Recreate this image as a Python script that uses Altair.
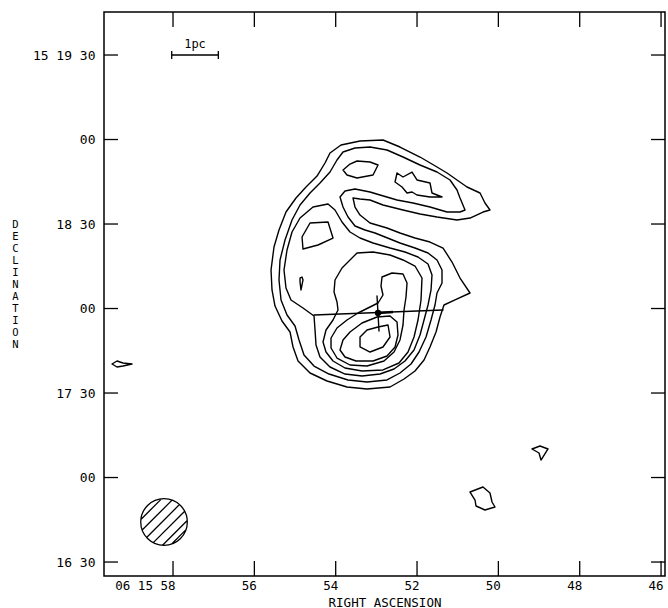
import altair as alt
import pandas as pd

# Map grid: RA in seconds of time past 06h15m, Dec in arcsec past +15d16m00s
RA_TICKS = [58, 56, 54, 52, 50, 48, 46]
RA_LABELS = ["06 15 58", "56", "54", "52", "50", "48", "46"]
DEC_TICKS = [30, 60, 90, 120, 150, 180, 210]
DEC_LABELS = ["16 30", "00", "17 30", "00", "18 30", "00", "15 19 30"]
DEC_TITLE = list("DECLINATION")

RA_RANGE = [59.697, 45.903]
DEC_RANGE = [25.04, 225.27]

# Contour 1 (lowest level), whole S-shaped source
LEVEL_1 = [
    (50.206, 154.98), (50.329, 157.46), (50.451, 161.01), (50.771, 163.14), (51.263, 168.11),
    (51.509, 170.24), (51.927, 173.79), (52.419, 177.34), (52.837, 179.83), (53.402, 179.47),
    (53.869, 178.05), (54.140, 175.21), (54.263, 171.66), (54.459, 167.04), (54.730, 163.14),
    (54.976, 159.23), (55.222, 154.26), (55.394, 147.88), (55.517, 141.84), (55.590, 133.68),
    (55.566, 126.58), (55.492, 120.89), (55.320, 115.57), (55.123, 111.66), (55.049, 106.34),
    (54.926, 101.37), (54.631, 97.11), (54.213, 94.27), (53.722, 92.14), (53.230, 91.43),
    (52.664, 92.14), (52.320, 94.98), (52.050, 97.82), (51.828, 101.73), (51.681, 106.34),
    (51.533, 111.66), (51.435, 116.99), (51.337, 121.25), (51.066, 123.03), (50.697, 125.51),
    (50.943, 130.83), (51.140, 136.51), (51.361, 141.48), (51.681, 143.61), (52.050, 145.03),
    (52.419, 146.81), (52.738, 148.58), (53.156, 150.36), (53.402, 153.20), (53.525, 156.04),
    (53.574, 159.23), (53.402, 158.88), (53.156, 158.53), (52.837, 156.75), (52.345, 154.98),
    (51.927, 153.55), (51.509, 152.49), (51.017, 151.43), (50.697, 152.13), (50.378, 154.26),
]

# Contour 2
LEVEL_2 = [
    (53.894, 159.59), (53.771, 161.72), (53.525, 162.43), (53.156, 161.36), (52.910, 160.30),
    (52.492, 158.53), (52.099, 157.46), (51.681, 156.04), (51.263, 154.26), (50.943, 154.26),
    (50.820, 154.98), (50.943, 159.23), (51.017, 162.08), (51.189, 165.63), (51.509, 168.46),
    (51.927, 170.95), (52.345, 173.79), (52.738, 176.28), (53.156, 177.34), (53.525, 176.98),
    (53.820, 175.56), (53.968, 172.73), (54.140, 168.46), (54.386, 164.56), (54.631, 161.01),
    (54.877, 156.75), (55.074, 151.43), (55.246, 144.33), (55.369, 137.23), (55.394, 130.13),
    (55.344, 123.03), (55.197, 117.70), (55.000, 113.79), (54.902, 108.83), (54.779, 103.50),
    (54.533, 99.59), (54.164, 96.75), (53.697, 94.63), (53.230, 93.91), (52.738, 94.63),
    (52.419, 97.11), (52.148, 100.30), (51.951, 104.56), (51.779, 109.89), (51.656, 115.93),
    (51.558, 121.25), (51.509, 125.51), (51.386, 129.06), (51.386, 133.68), (51.509, 137.23),
    (51.730, 139.71), (52.050, 141.48), (52.419, 143.26), (52.787, 145.39), (53.033, 146.81),
    (53.279, 147.88), (53.525, 149.29), (53.697, 152.49), (53.820, 156.04),
]

# Contour 3: main body plus two islands in the northern arm
LEVEL_3 = [
    (54.558, 156.04), (54.189, 157.10), (54.017, 154.98), (53.845, 150.71), (53.648, 147.16),
    (53.402, 145.03), (53.082, 143.26), (52.664, 141.48), (52.296, 140.06), (51.976, 138.29),
    (51.730, 135.80), (51.632, 131.90), (51.656, 126.58), (51.730, 121.25), (51.828, 115.93),
    (51.927, 110.60), (52.074, 105.28), (52.296, 101.37), (52.566, 98.53), (52.910, 96.75),
    (53.353, 96.04), (53.771, 96.75), (54.140, 99.24), (54.386, 102.79), (54.484, 107.05),
    (54.508, 112.38), (54.533, 117.34), (54.804, 120.18), (55.099, 123.03), (55.222, 127.28),
    (55.271, 133.68), (55.197, 140.78), (55.074, 147.16), (54.877, 152.13),
]
LEVEL_3_NORTH = [
    (53.820, 169.18), (53.648, 171.30), (53.476, 172.37), (53.156, 172.01), (52.959, 170.95),
    (53.082, 167.40), (53.476, 166.33), (53.722, 167.40),
]
LEVEL_3_ARM = [
    (52.492, 168.11), (52.345, 166.69), (52.123, 168.46), (52.001, 165.63), (51.681, 164.56),
    (51.632, 161.01), (51.386, 159.59), (51.681, 159.59), (52.001, 160.30), (52.123, 161.36),
    (52.246, 161.01), (52.369, 163.14), (52.541, 164.91),
]

# Contour 4: southern blob plus western island
LEVEL_4 = [
    (53.476, 139.71), (53.082, 140.06), (52.664, 139.00), (52.345, 137.23), (52.050, 135.09),
    (51.878, 130.83), (51.902, 123.03), (51.976, 115.93), (52.074, 109.89), (52.222, 104.56),
    (52.443, 100.66), (52.837, 98.18), (53.353, 97.82), (53.771, 98.88), (54.066, 101.37),
    (54.238, 104.56), (54.312, 108.11), (54.238, 112.38), (54.066, 115.93), (53.943, 119.48),
    (53.968, 122.31), (54.041, 125.86), (54.017, 130.13), (53.845, 134.38),
]
LEVEL_4_WEST = [
    (54.828, 145.39), (54.631, 150.36), (54.189, 150.71), (54.066, 145.03), (54.435, 142.55),
    (54.804, 141.13),
]
LEVEL_4_SPECK = [
    (54.877, 130.83), (54.828, 131.19), (54.804, 130.13), (54.853, 126.58), (54.877, 129.41),
]

# Contours 5-7 around the peak
LEVEL_5 = [
    (52.861, 131.19), (52.615, 132.61), (52.345, 132.25), (52.246, 129.06), (52.271, 124.09),
    (52.320, 119.48), (52.345, 114.15), (52.419, 108.83), (52.566, 104.56), (52.812, 101.37),
    (53.230, 99.59), (53.648, 99.95), (53.968, 102.43), (54.115, 105.98), (54.115, 109.53),
    (53.968, 113.08), (53.722, 115.93), (53.451, 118.41), (53.156, 120.54), (52.959, 121.96),
    (52.837, 124.80), (52.886, 127.99),
]
LEVEL_6 = [
    (53.894, 105.28), (53.820, 108.83), (53.648, 111.66), (53.353, 114.86), (52.984, 116.99),
    (52.664, 117.34), (52.492, 115.21), (52.468, 110.60), (52.541, 106.34), (52.738, 103.14),
    (53.082, 101.37), (53.500, 101.37), (53.771, 102.79),
]
LEVEL_7 = [
    (53.402, 109.89), (53.230, 112.38), (52.959, 113.44), (52.714, 114.15), (52.664, 109.89),
    (52.837, 106.34), (53.156, 104.56), (53.402, 106.34),
]

# Isolated lowest-level features
FIELD_WEST = [
    (59.500, 100.30), (59.377, 101.37), (59.229, 100.66), (59.008, 100.30), (59.229, 99.59),
    (59.377, 99.24),
]
FIELD_SE_1 = [(49.173, 70.13), (48.976, 71.19), (48.779, 70.13), (48.952, 66.22), (49.001, 68.71)]
FIELD_SE_2 = [
    (50.697, 54.86), (50.378, 56.64), (50.206, 54.51), (50.156, 51.31), (50.083, 49.54),
    (50.329, 48.47), (50.550, 49.89), (50.574, 52.02),
]

CLOSED = {
    "c1": LEVEL_1, "c2": LEVEL_2, "c3": LEVEL_3, "c3n": LEVEL_3_NORTH, "c3a": LEVEL_3_ARM,
    "c4": LEVEL_4, "c4w": LEVEL_4_WEST, "c4s": LEVEL_4_SPECK,
    "c5": LEVEL_5, "c6": LEVEL_6, "c7": LEVEL_7,
    "fw": FIELD_WEST, "fse1": FIELD_SE_1, "fse2": FIELD_SE_2,
}

# Position cross (jet axis and error bar), scale bar, beam
CROSS_EW = [(54.533, 117.70), (51.361, 119.48)]
CROSS_NS = [(52.984, 124.44), (52.935, 112.02)]
CROSS_CORE = [(52.959, 118.41), (52.591, 118.76)]
CENTRE = [(52.959, 118.41)]
SCALE_BAR = [(58.032, 210.0), (56.886, 210.0)]
SCALE_TEXT = [(57.459, 210.0, "1pc")]
BEAM = [(58.221, 44.21)]

rows = []
for name, pts in CLOSED.items():
    for i, (ra, dec) in enumerate(list(pts) + [pts[0]]):
        rows.append({"part": name, "seq": i, "ra": ra, "dec": dec})
for name, pts in {"ew": CROSS_EW, "ns": CROSS_NS, "bar": SCALE_BAR}.items():
    for i, (ra, dec) in enumerate(pts):
        rows.append({"part": name, "seq": i, "ra": ra, "dec": dec})
lines_df = pd.DataFrame(rows)

core_df = pd.DataFrame([{"seq": i, "ra": r, "dec": d} for i, (r, d) in enumerate(CROSS_CORE)])
centre_df = pd.DataFrame(CENTRE, columns=["ra", "dec"])
bar_ends_df = pd.DataFrame(SCALE_BAR, columns=["ra", "dec"])
bar_text_df = pd.DataFrame(SCALE_TEXT, columns=["ra", "dec", "txt"])
beam_df = pd.DataFrame(BEAM, columns=["ra", "dec"])
ra_ticks_df = pd.DataFrame({"ra": RA_TICKS})
dec_ticks_df = pd.DataFrame({"dec": DEC_TICKS})

FONT = "DejaVu Sans Mono"


def label_expr(values, labels):
    expr = "''"
    for v, lab in zip(values, labels):
        expr = f"datum.value == {v} ? '{lab}' : ({expr})"
    return expr


x_axis = alt.Axis(
    values=RA_TICKS, labelExpr=label_expr(RA_TICKS, RA_LABELS), grid=False, ticks=False,
    tickSize=0, domain=False, labelAlign="right", labelOffset=2, labelBaseline="alphabetic",
    labelPadding=13, labelFont=FONT, labelFontSize=12.5, labelColor="black",
    labelOverlap=False, labelFlush=False,
    titleFont=FONT, titleFontSize=12.5, titleFontWeight="normal", titleColor="black",
    titleBaseline="alphabetic", titleY=30,
)
y_axis = alt.Axis(
    values=DEC_TICKS, labelExpr=label_expr(DEC_TICKS, DEC_LABELS), grid=False, ticks=False,
    tickSize=0, domain=False, labelPadding=9, labelFont=FONT, labelFontSize=13,
    labelColor="black", labelOverlap=False, labelFlush=False,
    titleFont=FONT, titleFontSize=10.5, titleFontWeight="normal", titleColor="black",
    titleAngle=0, titleAlign="center", titleBaseline="top", titleX=-89, titleY=207,
    titleLineHeight=12,
)
x_scale = alt.Scale(domain=RA_RANGE, nice=False, zero=False)
y_scale = alt.Scale(domain=DEC_RANGE, nice=False, zero=False)


def X():
    return alt.X("ra:Q", scale=x_scale, axis=x_axis, title="RIGHT ASCENSION")


def Y():
    return alt.Y("dec:Q", scale=y_scale, axis=y_axis, title=DEC_TITLE)


lines = alt.Chart(lines_df).mark_line(
    color="black", strokeWidth=1.4, strokeJoin="round", strokeCap="round"
).encode(x=X(), y=Y(), detail="part:N", order="seq:Q")

core = alt.Chart(core_df).mark_line(color="black", strokeWidth=2.6).encode(
    x=X(), y=Y(), order="seq:Q"
)

centre = alt.Chart(centre_df).mark_point(
    filled=True, color="black", size=40, opacity=1
).encode(x=X(), y=Y())

bar_ends = alt.Chart(bar_ends_df).mark_point(
    shape="M 0 -1 L 0 1", size=64, filled=False, stroke="black", strokeWidth=1.3, opacity=1
).encode(x=X(), y=Y())

bar_text = alt.Chart(bar_text_df).mark_text(
    font=FONT, fontSize=12, color="black", baseline="alphabetic", dy=-7
).encode(x=X(), y=Y(), text="txt:N")

BEAM_SHAPE = (
    "M 1 0 A 1 1 0 1 1 -1 0 A 1 1 0 1 1 1 0 Z "
    "M -0.109 -0.994 L -0.994 -0.109 "
    "M 0.345 -0.939 L -0.939 0.345 "
    "M 0.663 -0.748 L -0.748 0.663 "
    "M 0.887 -0.462 L -0.462 0.887 "
    "M 0.998 -0.065 L -0.065 0.998 "
    "M 0.945 0.328 L 0.328 0.945"
)
beam = alt.Chart(beam_df).mark_point(
    shape=BEAM_SHAPE, size=2170, filled=False, stroke="black", strokeWidth=1.3, opacity=1
).encode(x=X(), y=Y())

tick_style = dict(color="black", strokeWidth=1.3)
left_ticks = alt.Chart(dec_ticks_df).mark_rule(**tick_style).encode(
    y=Y(), x=alt.value(0), x2=alt.value(14))
right_ticks = alt.Chart(dec_ticks_df).mark_rule(**tick_style).encode(
    y=Y(), x=alt.value(547), x2=alt.value(561))
top_ticks = alt.Chart(ra_ticks_df).mark_rule(**tick_style).encode(
    x=X(), y=alt.value(0), y2=alt.value(15))
bottom_ticks = alt.Chart(ra_ticks_df).mark_rule(**tick_style).encode(
    x=X(), y=alt.value(549), y2=alt.value(564))

chart = alt.layer(
    lines, core, centre, bar_ends, bar_text, beam,
    left_ticks, right_ticks, top_ticks, bottom_ticks,
).properties(
    width=561, height=564,
    padding={"left": 104, "top": 12, "right": 3, "bottom": 32},
    autosize=alt.AutoSizeParams(type="none"),
    background="white",
).configure_view(stroke="black", strokeWidth=1.5)

chart.save("out.html", embed_options={"renderer": "svg", "actions": False})
